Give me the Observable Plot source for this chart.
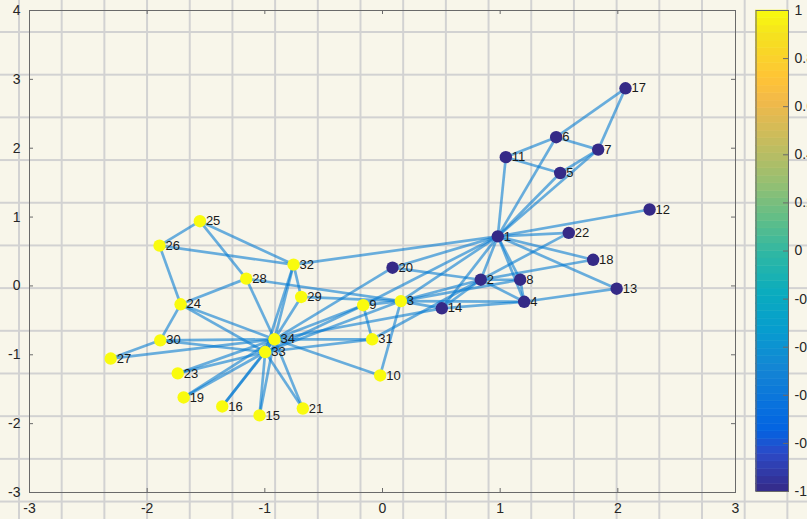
<!DOCTYPE html>
<html>
<head>
<meta charset="utf-8">
<script src="https://cdn.jsdelivr.net/npm/d3@7"></script>
<script src="https://cdn.jsdelivr.net/npm/@observablehq/plot@0.6"></script>
<style>
  html, body { margin: 0; padding: 0; overflow: hidden; }
  #fig {
    position: relative;
    width: 807px;
    height: 519px;
    overflow: hidden;
    background-color: #f8f6ea;
    background-image:
      linear-gradient(to right, #d2d2d2 2px, transparent 2px),
      linear-gradient(to bottom, #d2d2d2 2px, transparent 2px);
    background-size: 42.7px 42.7px;
    background-position: 18px 31px;
    font-family: "Liberation Sans", Arial, Helvetica, sans-serif;
  }
  #fig > svg { position: absolute; top: 0; }
</style>
</head>
<body>
<div id="fig"></div>
<script>
// Zachary karate club: spectral layout coordinates, community sign per node
const nodeIds = d3.range(1, 35);
const nodeX = [0.98, 0.835, 0.156, 1.204, 1.51, 1.476, 1.833, 1.17, -0.164, -0.02,
               1.048, 2.27, 1.99, 0.504, -1.045, -1.362, 2.065, 1.79, -1.69, 0.085,
               -0.677, 1.583, -1.74, -1.716, -1.552, -1.895, -2.31, -1.158, -0.691, -1.889,
               -0.088, -0.756, -0.997, -0.918];
const nodeY = [0.72, 0.09, -0.22, -0.23, 1.64, 2.16, 1.98, 0.09, -0.28, -1.30,
               1.87, 1.11, -0.04, -0.325, -1.88, -1.75, 2.87, 0.38, -1.62, 0.265,
               -1.78, 0.77, -1.27, -0.267, 0.94, 0.585, -1.055, 0.106, -0.16, -0.79,
               -0.775, 0.31, -0.96, -0.775];
const community = [-1, -1, 1, -1, -1, -1, -1, -1, 1, 1,
                   -1, -1, -1, -1, 1, 1, -1, -1, 1, -1,
                   1, -1, 1, 1, 1, 1, 1, 1, 1, 1,
                   1, 1, 1, 1];

// Edge list (endpoints are node ids)
const edgeFrom = [1,1,1,1,1,1,1,1,1,1,1,1,1,1,1,1,
                  2,2,2,2,2,2,2,2,
                  3,3,3,3,3,3,3,3,
                  4,4,4, 5,5, 6,6,6, 7,
                  9,9,9, 10, 14, 15,15, 16,16, 19,19, 20, 21,21, 23,23,
                  24,24,24,24,24, 25,25,25, 26, 27,27, 28, 29,29, 30,30, 31,31, 32,32, 33];
const edgeTo   = [2,3,4,5,6,7,8,9,11,12,13,14,18,20,22,32,
                  3,4,8,14,18,20,22,31,
                  4,8,9,10,14,28,29,33,
                  8,13,14, 7,11, 7,11,17, 17,
                  31,33,34, 34, 34, 33,34, 33,34, 33,34, 34, 33,34, 33,34,
                  26,28,30,33,34, 26,28,32, 32, 30,34, 34, 32,34, 33,34, 33,34, 33,34, 34];

// Axis ticks
const xTicks = [-3, -2, -1, 0, 1, 2, 3];
const yTicks = [-3, -2, -1, 0, 1, 2, 3, 4];
const cbTicks = [1, 0.8, 0.6, 0.4, 0.2, 0, -0.2, -0.4, -0.6, -0.8, -1];

// Parula colormap stops
const parula = ["#352a87", "#2c4ac7", "#0363e1", "#0871de", "#1485d4", "#079ccf",
                "#0aacbe", "#2eb7a4", "#65be86", "#9cbf6f", "#c8bc5d", "#f1b94a",
                "#ffc337", "#fad32a", "#f5e41d", "#f9fb0e"];
const parulaAt = [1, 6, 9, 12, 17, 22, 27, 32, 37, 42, 47, 52, 55, 58, 61, 64];
const colorScale = {
  type: "linear",
  domain: parulaAt.map(i => -1 + 2 * (i - 1) / 63),
  range: parula,
  interpolate: "rgb"
};

const nodes = nodeIds.map((id, i) => ({id, x: nodeX[i], y: nodeY[i], c: community[i]}));
const edges = edgeFrom.map((a, i) => ({a: nodes[a - 1], b: nodes[edgeTo[i] - 1]}));

const W = 807, H = 519;
const mL = 29, mR = 72, mT = 10, mB = 27;
const innerW = W - mL - mR, innerH = H - mT - mB;
const tickLen = 4;
const axisColor = "#6a6a6a";
const textColor = "#262626";
const fmt = d => String(d);

const main = Plot.plot({
  width: W,
  height: H,
  marginLeft: mL, marginRight: mR, marginTop: mT, marginBottom: mB,
  style: {background: "transparent", fontFamily: "Liberation Sans, Arial, sans-serif", fontSize: "14px", color: textColor, overflow: "visible"},
  x: {domain: [-3, 3]},
  y: {domain: [-3, 4]},
  color: colorScale,
  marks: [
    Plot.frame({stroke: axisColor, strokeWidth: 1}),
    // inward ticks on all four sides
    Plot.tickX(xTicks, {x: d => d, insetTop: innerH - tickLen, stroke: axisColor}),
    Plot.tickX(xTicks, {x: d => d, insetBottom: innerH - tickLen, stroke: axisColor}),
    Plot.tickY(yTicks, {y: d => d, insetRight: innerW - tickLen, stroke: axisColor}),
    Plot.tickY(yTicks, {y: d => d, insetLeft: innerW - tickLen, stroke: axisColor}),
    Plot.axisX({ticks: xTicks, tickSize: 0, tickPadding: 11, tickFormat: fmt, fill: textColor, label: null}),
    Plot.axisY({ticks: yTicks, tickSize: 0, tickPadding: 9, tickFormat: fmt, fill: textColor, label: null}),
    Plot.link(edges, {
      x1: d => d.a.x, y1: d => d.a.y, x2: d => d.b.x, y2: d => d.b.y,
      stroke: "#0078d2", strokeOpacity: 0.58, strokeWidth: 2.7
    }),
    Plot.dot(nodes, {x: "x", y: "y", r: 6.2, fill: "c", stroke: "none"}),
    Plot.text(nodes, {x: "x", y: "y", text: d => String(d.id), dx: 6, textAnchor: "start",
                      fontSize: 13, fill: "#1a1a1a"})
  ]
});

// Colorbar: 64 discrete bands of the colormap
const cbW = 100, cbLeft = 740;
const cbML = 15.5, cbBarW = 32.5;
const bands = d3.range(64);
const colorbar = Plot.plot({
  width: cbW,
  height: H,
  marginLeft: cbML, marginRight: cbW - cbML - cbBarW, marginTop: 10, marginBottom: 28,
  style: {background: "transparent", fontFamily: "Liberation Sans, Arial, sans-serif", fontSize: "14px", color: textColor, overflow: "visible"},
  x: {domain: [0, 1], axis: null},
  y: {domain: [-1, 1], axis: null},
  color: colorScale,
  marks: [
    Plot.rect(bands, {
      x1: 0, x2: 1,
      y1: i => -1 + 2 * i / 64, y2: i => -1 + 2 * (i + 1) / 64,
      fill: i => -1 + 2 * (i + 0.5) / 64,
      stroke: i => -1 + 2 * (i + 0.5) / 64, strokeWidth: 0.5
    }),
    Plot.frame({stroke: axisColor, strokeWidth: 1}),
    Plot.tickY(cbTicks, {y: d => d, insetLeft: cbBarW - 5, stroke: axisColor}),
    Plot.axisY({anchor: "right", ticks: cbTicks, tickSize: 0, tickPadding: 6, tickFormat: fmt, fill: textColor, label: null})
  ]
});

const fig = document.getElementById("fig");
main.style.left = "0px";
colorbar.style.left = cbLeft + "px";
fig.appendChild(main);
fig.appendChild(colorbar);
</script>
</body>
</html>
